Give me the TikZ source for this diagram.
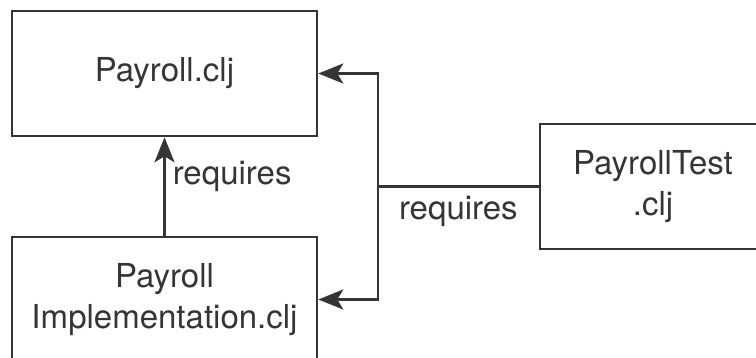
\documentclass[tikz,border=0pt]{standalone}
\usepackage{fontspec}
\setmainfont{TeX Gyre Heros}
\usetikzlibrary{arrows.meta}
\definecolor{ink}{HTML}{353535}

\begin{document}
\begin{tikzpicture}[x=1pt,y=1pt,>={Stealth[length=25pt,width=20pt,inset=6pt]},
		line width=2.6pt, draw=ink, text=ink, auto,
		font=\fontsize{33}{41}\selectfont]
		\tikzstyle{file}=[draw=ink,rectangle,align=center,minimum height=125pt,inner sep=0pt]
		\tikzstyle{dep}=[->,draw=ink]
		\clip (0,0) rectangle (756,357);
		
		\node[file, minimum width=305pt] (payroll) at (164.5,283.5) {Payroll.clj};
		\node[file, minimum width=305pt] (impl)    at (164.5,57.5)  {Payroll\\Implementation.clj};
		\node[file, minimum width=226pt] (test)    at (653,170.5)   {PayrollTest\\.clj};
		\coordinate (jx) at (378,0);
		
		\draw[dep] (impl.north) -- node[pos=0.6, right, inner sep=7pt] {requires} (payroll.south);
		\draw[dep] (test.west) -- node[midway, below, inner sep=8pt] {requires} (test.west -| jx)
				|- (payroll.east);
		\draw[dep] (test.west -| jx) |- (impl.east);
\end{tikzpicture}
\end{document}
